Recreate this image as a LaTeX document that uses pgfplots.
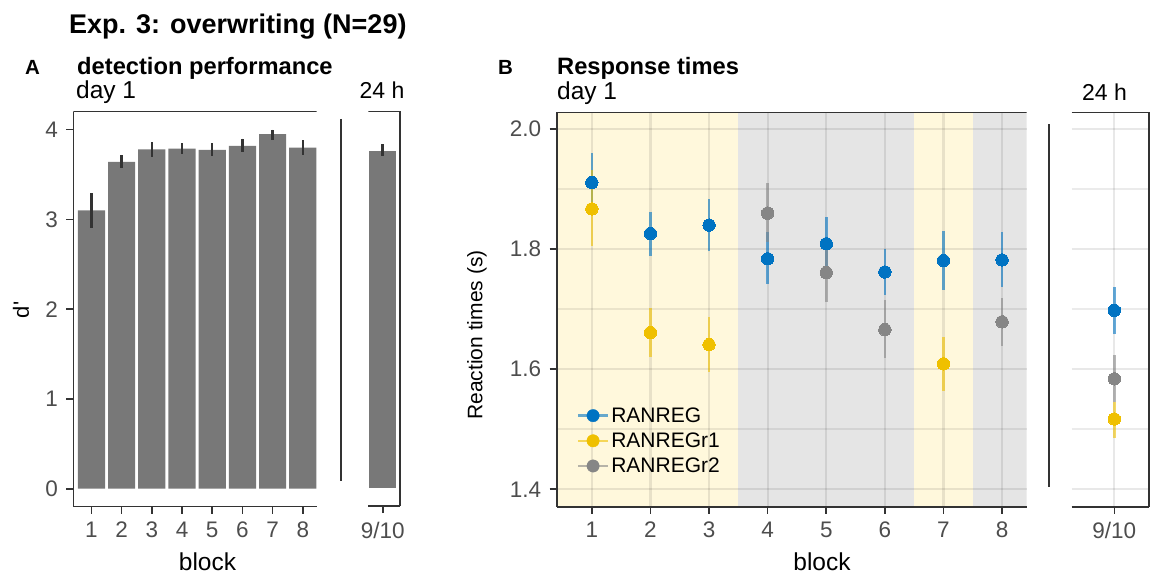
\documentclass[border=0pt]{standalone}
\usepackage{fontspec}
\setmainfont{Liberation Sans}
\usepackage{pgfplots}
\pgfplotsset{compat=1.18}

\definecolor{jblue}{HTML}{0073C2}
\definecolor{jyellow}{HTML}{EFC000}
\definecolor{jgrey}{HTML}{868686}
\definecolor{bandY}{HTML}{FFF8DC}
\definecolor{bandG}{HTML}{E5E5E5}
\definecolor{barfill}{HTML}{787878}
\definecolor{axline}{HTML}{333333}
\definecolor{ticklab}{HTML}{4D4D4D}

\newcommand{\fs}[1]{\fontsize{#1}{#1}\selectfont}

\pgfplotsset{
  panel/.style={
    scale only axis, anchor=south west,
    axis x line*=bottom,
    tick align=outside,
    major tick length=7pt,
    minor tick length=0pt,
    tick style={axline, line width=1.6pt},
    axis line style={axline, line width=1.6pt},
    /pgf/number format/assume math mode=true,
    tick label style={font=\fs{22.5}, text=ticklab},
    xticklabel style={yshift=-5pt},
    yticklabel style={xshift=-5pt},
  },
  rtgrid/.style={
    ytick={1.4,1.6,1.8,2.0},
    minor ytick={1.5,1.7,1.9},
    grid=both,
    major grid style={black, opacity=0.09, line width=2.2pt},
    minor grid style={black, opacity=0.08, line width=1.6pt},
    ymin=1.371, ymax=2.028,
  },
  ebar/.style={forget plot, only marks, mark=none,
    error bars/.cd, y dir=both, y explicit, error mark=none,
    error bar style={draw=#1, opacity=0.6, line width=2.5pt}},
  dots/.style={forget plot, only marks, mark=*, mark size=6.2pt,
    mark options={draw=#1, fill=#1, line width=0pt}},
}

\begin{document}
\begin{tikzpicture}
\useasboundingbox (0pt,0pt) rectangle (1151pt,573pt);

% ---------- A, day 1 ----------
\begin{axis}[panel, at={(73.3pt,66.3pt)}, width=243.4pt, height=395pt,
  axis y line*=left,
  xmin=0.4, xmax=8.46, ymin=-0.2, ymax=4.2,
  xtick={1,...,8}, ytick={0,1,2,3,4},
  ybar, bar width=0.9, bar shift=0pt]
\addplot[fill=barfill, draw=none,
  error bars/.cd, y dir=both, y explicit, error mark=none,
  error bar style={draw=axline, line width=2.5pt}]
coordinates {
  (1,3.10)  += (0,0.19) -= (0,0.19)
  (2,3.64)  += (0,0.08) -= (0,0.07)
  (3,3.78)  += (0,0.08) -= (0,0.08)
  (4,3.79)  += (0,0.06) -= (0,0.06)
  (5,3.775) += (0,0.075) -= (0,0.065)
  (6,3.82)  += (0,0.08) -= (0,0.07)
  (7,3.95)  += (0,0.05) -= (0,0.07)
  (8,3.80)  += (0,0.08) -= (0,0.08)
};
\draw[axline, line width=1.6pt] (rel axis cs:0,1) -- (rel axis cs:1,1);
\end{axis}

% ---------- A, 24 h ----------
\begin{axis}[panel, at={(368.3pt,66.8pt)}, width=31.7pt, height=395pt,
  axis y line*=right,
  xmin=0.523, xmax=1.573, ymin=-0.2, ymax=4.2,
  xtick={1}, xticklabels={9/10}, ytick=\empty,
  ybar, bar width=0.9, bar shift=0pt]
\addplot[fill=barfill, draw=none,
  error bars/.cd, y dir=both, y explicit, error mark=none,
  error bar style={draw=axline, line width=2.5pt}]
coordinates {(1,3.76) += (0,0.07) -= (0,0.06)};
\draw[axline, line width=1.6pt] (rel axis cs:0,1) -- (rel axis cs:1,1);
\end{axis}

% ---------- B, day 1: block shading (drawn under the grid) ----------
\begin{axis}[scale only axis, anchor=south west, hide axis,
  at={(556.7pt,66.3pt)}, width=470pt, height=394.4pt,
  xmin=0.4, xmax=8.42, ymin=1.371, ymax=2.028]
\addplot[fill=bandY, draw=none] coordinates {(0.4,2.1) (3.5,2.1)} \closedcycle;
\addplot[fill=bandG, draw=none] coordinates {(3.5,2.1) (6.5,2.1)} \closedcycle;
\addplot[fill=bandY, draw=none] coordinates {(6.5,2.1) (7.5,2.1)} \closedcycle;
\addplot[fill=bandG, draw=none] coordinates {(7.5,2.1) (8.5,2.1)} \closedcycle;
\end{axis}

% ---------- B, day 1 ----------
\begin{axis}[panel, rtgrid,
  at={(556.7pt,66.3pt)}, width=470pt, height=394.4pt,
  axis y line*=left,
  xmin=0.4, xmax=8.42,
  xtick={1,...,8},
  yticklabel style={/pgf/number format/fixed, /pgf/number format/fixed zerofill, /pgf/number format/precision=1},
  legend style={at={(0.036,0.262)}, anchor=north west, draw=none, fill=none,
    font=\fs{21}, row sep=5pt},
  legend cell align=left,
  legend image code/.code={
    \draw[#1, line width=2.5pt, opacity=0.6] (0pt,0pt) -- (30pt,0pt);
    \fill[#1] (15pt,0pt) circle (6.2pt);
  }]
\addplot[ebar=jblue] coordinates {
  (1,1.911) += (0,0.049) -= (0,0.049)
  (2,1.826) += (0,0.036) -= (0,0.037)
  (3,1.840) += (0,0.044) -= (0,0.043)
  (4,1.784) += (0,0.044) -= (0,0.042)
  (5,1.809) += (0,0.045) -= (0,0.045)
  (6,1.762) += (0,0.039) -= (0,0.038)
  (7,1.781) += (0,0.049) -= (0,0.049)
  (8,1.782) += (0,0.047) -= (0,0.045)
};
\addplot[ebar=jyellow] coordinates {
  (1,1.867) += (0,0.065) -= (0,0.062)
  (2,1.661) += (0,0.041) -= (0,0.041)
  (3,1.641) += (0,0.046) -= (0,0.045)
  (7,1.609) += (0,0.045) -= (0,0.045)
};
\addplot[ebar=jgrey] coordinates {
  (4,1.860) += (0,0.050) -= (0,0.048)
  (5,1.761) += (0,0.049) -= (0,0.049)
  (6,1.666) += (0,0.049) -= (0,0.048)
  (8,1.679) += (0,0.040) -= (0,0.040)
};
\addplot[dots=jyellow] coordinates {(1,1.867) (2,1.661) (3,1.641) (7,1.609)};
\addplot[dots=jgrey] coordinates {(4,1.860) (5,1.761) (6,1.666) (8,1.679)};
\addplot[dots=jblue] coordinates {(1,1.911) (2,1.826) (3,1.840) (4,1.784) (5,1.809) (6,1.762) (7,1.781) (8,1.782)};
\addlegendimage{jblue}\addlegendentry{RANREG}
\addlegendimage{jyellow}\addlegendentry{RANREGr1}
\addlegendimage{jgrey}\addlegendentry{RANREGr2}
\draw[axline, line width=1.6pt] (rel axis cs:0,1) -- (rel axis cs:1,1);
\end{axis}

% ---------- B, 24 h ----------
\begin{axis}[panel, rtgrid,
  at={(1071.7pt,66.3pt)}, width=77.3pt, height=394.4pt,
  axis y line*=right,
  xmin=0.273, xmax=1.592,
  xtick={1}, xticklabels={9/10},
  yticklabels={}, y tick style={draw=none}]
\addplot[ebar=jblue] coordinates {(1,1.698) += (0,0.039) -= (0,0.039)};
\addplot[ebar=jgrey] coordinates {(1,1.584) += (0,0.039) -= (0,0.039)};
\addplot[ebar=jyellow] coordinates {(1,1.517) += (0,0.028) -= (0,0.032)};
\addplot[dots=jblue] coordinates {(1,1.698)};
\addplot[dots=jgrey] coordinates {(1,1.584)};
\addplot[dots=jyellow] coordinates {(1,1.517)};
\draw[axline, line width=1.6pt] (rel axis cs:0,1) -- (rel axis cs:1,1);
\end{axis}

% separators between day 1 and 24 h
\draw[axline, line width=1.6pt] (340.7pt,454pt) -- (340.7pt,92pt);
\draw[axline, line width=1.6pt] (1048.7pt,448.7pt) -- (1048.7pt,85.7pt);

% titles and labels
\node[anchor=base west, inner sep=0pt, font=\bfseries\fs{27}] at (69pt,539.5pt) {Exp. 3: overwriting (N=29)};
\node[anchor=base west, inner sep=0pt, font=\bfseries\fs{20.5}] at (25pt,498pt) {A};
\node[anchor=base west, inner sep=0pt, font=\bfseries\fs{23.7}] at (77pt,498pt) {detection performance};
\node[anchor=base west, inner sep=0pt, font=\fs{24.5}] at (76pt,474pt) {day 1};
\node[anchor=base, inner sep=0pt, font=\fs{23}] at (382pt,474pt) {24 h};
\node[anchor=base west, inner sep=0pt, font=\bfseries\fs{20.5}] at (498pt,498pt) {B};
\node[anchor=base west, inner sep=0pt, font=\bfseries\fs{23.7}] at (557pt,498pt) {Response times};
\node[anchor=base west, inner sep=0pt, font=\fs{24.5}] at (557pt,473pt) {day 1};
\node[anchor=base, inner sep=0pt, font=\fs{23}] at (1104.5pt,472pt) {24 h};
\node[anchor=base, inner sep=0pt, font=\fs{24.5}] at (207.5pt,3pt) {block};
\node[anchor=base, inner sep=0pt, font=\fs{24.5}] at (822pt,3pt) {block};
\node[rotate=90, inner sep=0pt, font=\fs{22}] at (21pt,263pt) {d\textquotesingle};
\node[rotate=90, inner sep=0pt, font=\fs{21}] at (477pt,238pt) {Reaction times (s)};
\end{tikzpicture}
\end{document}
